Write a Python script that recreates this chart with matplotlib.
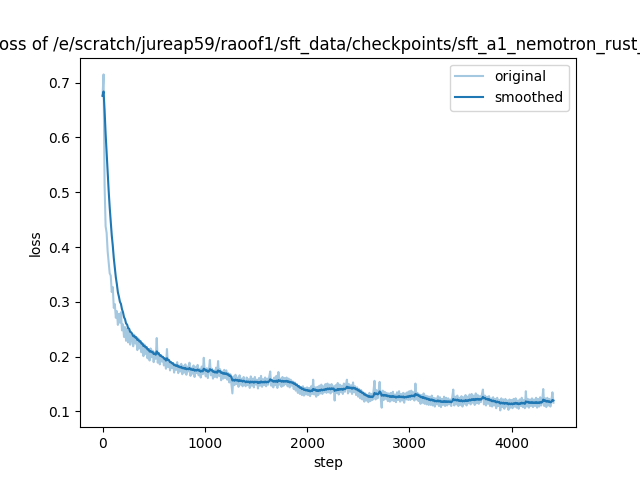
import numpy as np
import pandas as pd
import matplotlib
matplotlib.use("Agg")
import matplotlib.pyplot as plt

TITLE = "Loss of /e/scratch/jureap59/raoof1/sft_data/checkpoints/sft_a1_nemotron_rust_sft"

STEP_EVERY = 10

# raw loss, one value every 10 steps (rows of 200 steps)
loss = [
    0.676, 0.715, 0.512, 0.438, 0.426, 0.392, 0.371, 0.352, 0.348, 0.318, 0.327, 0.289, 0.296, 0.271, 0.283, 0.258, 0.278, 0.262, 0.281, 0.248,
    0.259, 0.236, 0.254, 0.229, 0.251, 0.226, 0.247, 0.222, 0.241, 0.231, 0.219, 0.240, 0.224, 0.236, 0.212, 0.233, 0.215, 0.229, 0.208, 0.224,
    0.201, 0.222, 0.205, 0.218, 0.197, 0.214, 0.193, 0.215, 0.199, 0.211, 0.190, 0.208, 0.196, 0.234, 0.189, 0.207, 0.186, 0.203, 0.191, 0.199,
    0.184, 0.197, 0.178, 0.214, 0.181, 0.193, 0.175, 0.190, 0.179, 0.188, 0.171, 0.186, 0.176, 0.190, 0.170, 0.184, 0.173, 0.187, 0.168, 0.183,
    0.171, 0.186, 0.167, 0.182, 0.173, 0.189, 0.165, 0.180, 0.169, 0.184, 0.163, 0.181, 0.170, 0.185, 0.166, 0.178, 0.162, 0.182, 0.168, 0.198,
    0.172, 0.164, 0.179, 0.161, 0.176, 0.194, 0.166, 0.178, 0.160, 0.175, 0.163, 0.180, 0.162, 0.192, 0.165, 0.177, 0.157, 0.173, 0.160, 0.176,
    0.161, 0.175, 0.158, 0.170, 0.153, 0.168, 0.150, 0.133, 0.164, 0.148, 0.167, 0.150, 0.162, 0.145, 0.166, 0.149, 0.160, 0.146, 0.163, 0.151,
    0.146, 0.162, 0.148, 0.159, 0.143, 0.164, 0.147, 0.160, 0.144, 0.163, 0.149, 0.158, 0.142, 0.161, 0.147, 0.165, 0.145, 0.159, 0.148, 0.162,
    0.146, 0.160, 0.149, 0.163, 0.173, 0.147, 0.158, 0.144, 0.162, 0.148, 0.165, 0.143, 0.172, 0.149, 0.160, 0.145, 0.163, 0.147, 0.161, 0.150,
    0.162, 0.146, 0.160, 0.144, 0.158, 0.147, 0.155, 0.141, 0.153, 0.138, 0.150, 0.134, 0.147, 0.132, 0.145, 0.130, 0.146, 0.129, 0.143, 0.131,
    0.144, 0.130, 0.143, 0.128, 0.146, 0.132, 0.158, 0.131, 0.144, 0.127, 0.145, 0.130, 0.147, 0.133, 0.149, 0.132, 0.146, 0.135, 0.150, 0.134,
    0.151, 0.135, 0.149, 0.133, 0.150, 0.136, 0.146, 0.120, 0.148, 0.134, 0.152, 0.131, 0.149, 0.135, 0.147, 0.132, 0.151, 0.136, 0.148, 0.158,
    0.133, 0.150, 0.136, 0.148, 0.132, 0.153, 0.135, 0.146, 0.130, 0.144, 0.127, 0.141, 0.124, 0.139, 0.122, 0.135, 0.118, 0.133, 0.120, 0.130,
    0.117, 0.134, 0.119, 0.132, 0.121, 0.137, 0.156, 0.122, 0.139, 0.124, 0.136, 0.154, 0.125, 0.107, 0.138, 0.121, 0.136, 0.123, 0.134, 0.119,
    0.133, 0.118, 0.134, 0.120, 0.136, 0.119, 0.131, 0.117, 0.135, 0.121, 0.137, 0.118, 0.132, 0.120, 0.134, 0.116, 0.133, 0.122, 0.135, 0.121,
    0.137, 0.121, 0.138, 0.123, 0.135, 0.120, 0.151, 0.122, 0.134, 0.119, 0.131, 0.114, 0.130, 0.116, 0.133, 0.114, 0.129, 0.113, 0.128, 0.112,
    0.127, 0.112, 0.129, 0.111, 0.125, 0.109, 0.124, 0.113, 0.128, 0.110, 0.126, 0.108, 0.123, 0.112, 0.127, 0.110, 0.125, 0.111, 0.124, 0.113,
    0.122, 0.110, 0.126, 0.140, 0.111, 0.127, 0.113, 0.129, 0.110, 0.125, 0.112, 0.128, 0.109, 0.126, 0.114, 0.130, 0.111, 0.127, 0.115, 0.131,
    0.113, 0.132, 0.116, 0.129, 0.112, 0.133, 0.115, 0.130, 0.114, 0.128, 0.117, 0.131, 0.140, 0.113, 0.129, 0.111, 0.127, 0.114, 0.128, 0.110,
    0.124, 0.109, 0.126, 0.111, 0.123, 0.106, 0.125, 0.110, 0.121, 0.102, 0.124, 0.108, 0.122, 0.105, 0.123, 0.109, 0.120, 0.103, 0.122, 0.107,
    0.121, 0.106, 0.123, 0.109, 0.124, 0.107, 0.120, 0.105, 0.122, 0.110, 0.125, 0.108, 0.121, 0.106, 0.137, 0.109, 0.123, 0.107, 0.122, 0.110,
    0.124, 0.108, 0.122, 0.110, 0.125, 0.107, 0.123, 0.109, 0.126, 0.111, 0.120, 0.141, 0.110, 0.124, 0.108, 0.125, 0.111, 0.123, 0.109, 0.121,
    0.135, 0.116,
]

steps = np.arange(len(loss)) * STEP_EVERY
smoothed = pd.Series(loss).ewm(alpha=0.2, adjust=False).mean()

fig, ax = plt.subplots(figsize=(6.4, 4.8), dpi=100)
ax.plot(steps, loss, color="C0", alpha=0.4, label="original")
ax.plot(steps, smoothed, color="C0", label="smoothed")
ax.set_xlabel("step")
ax.set_ylabel("loss")
ax.set_title(TITLE)
ax.legend()
fig.savefig("out.png")
